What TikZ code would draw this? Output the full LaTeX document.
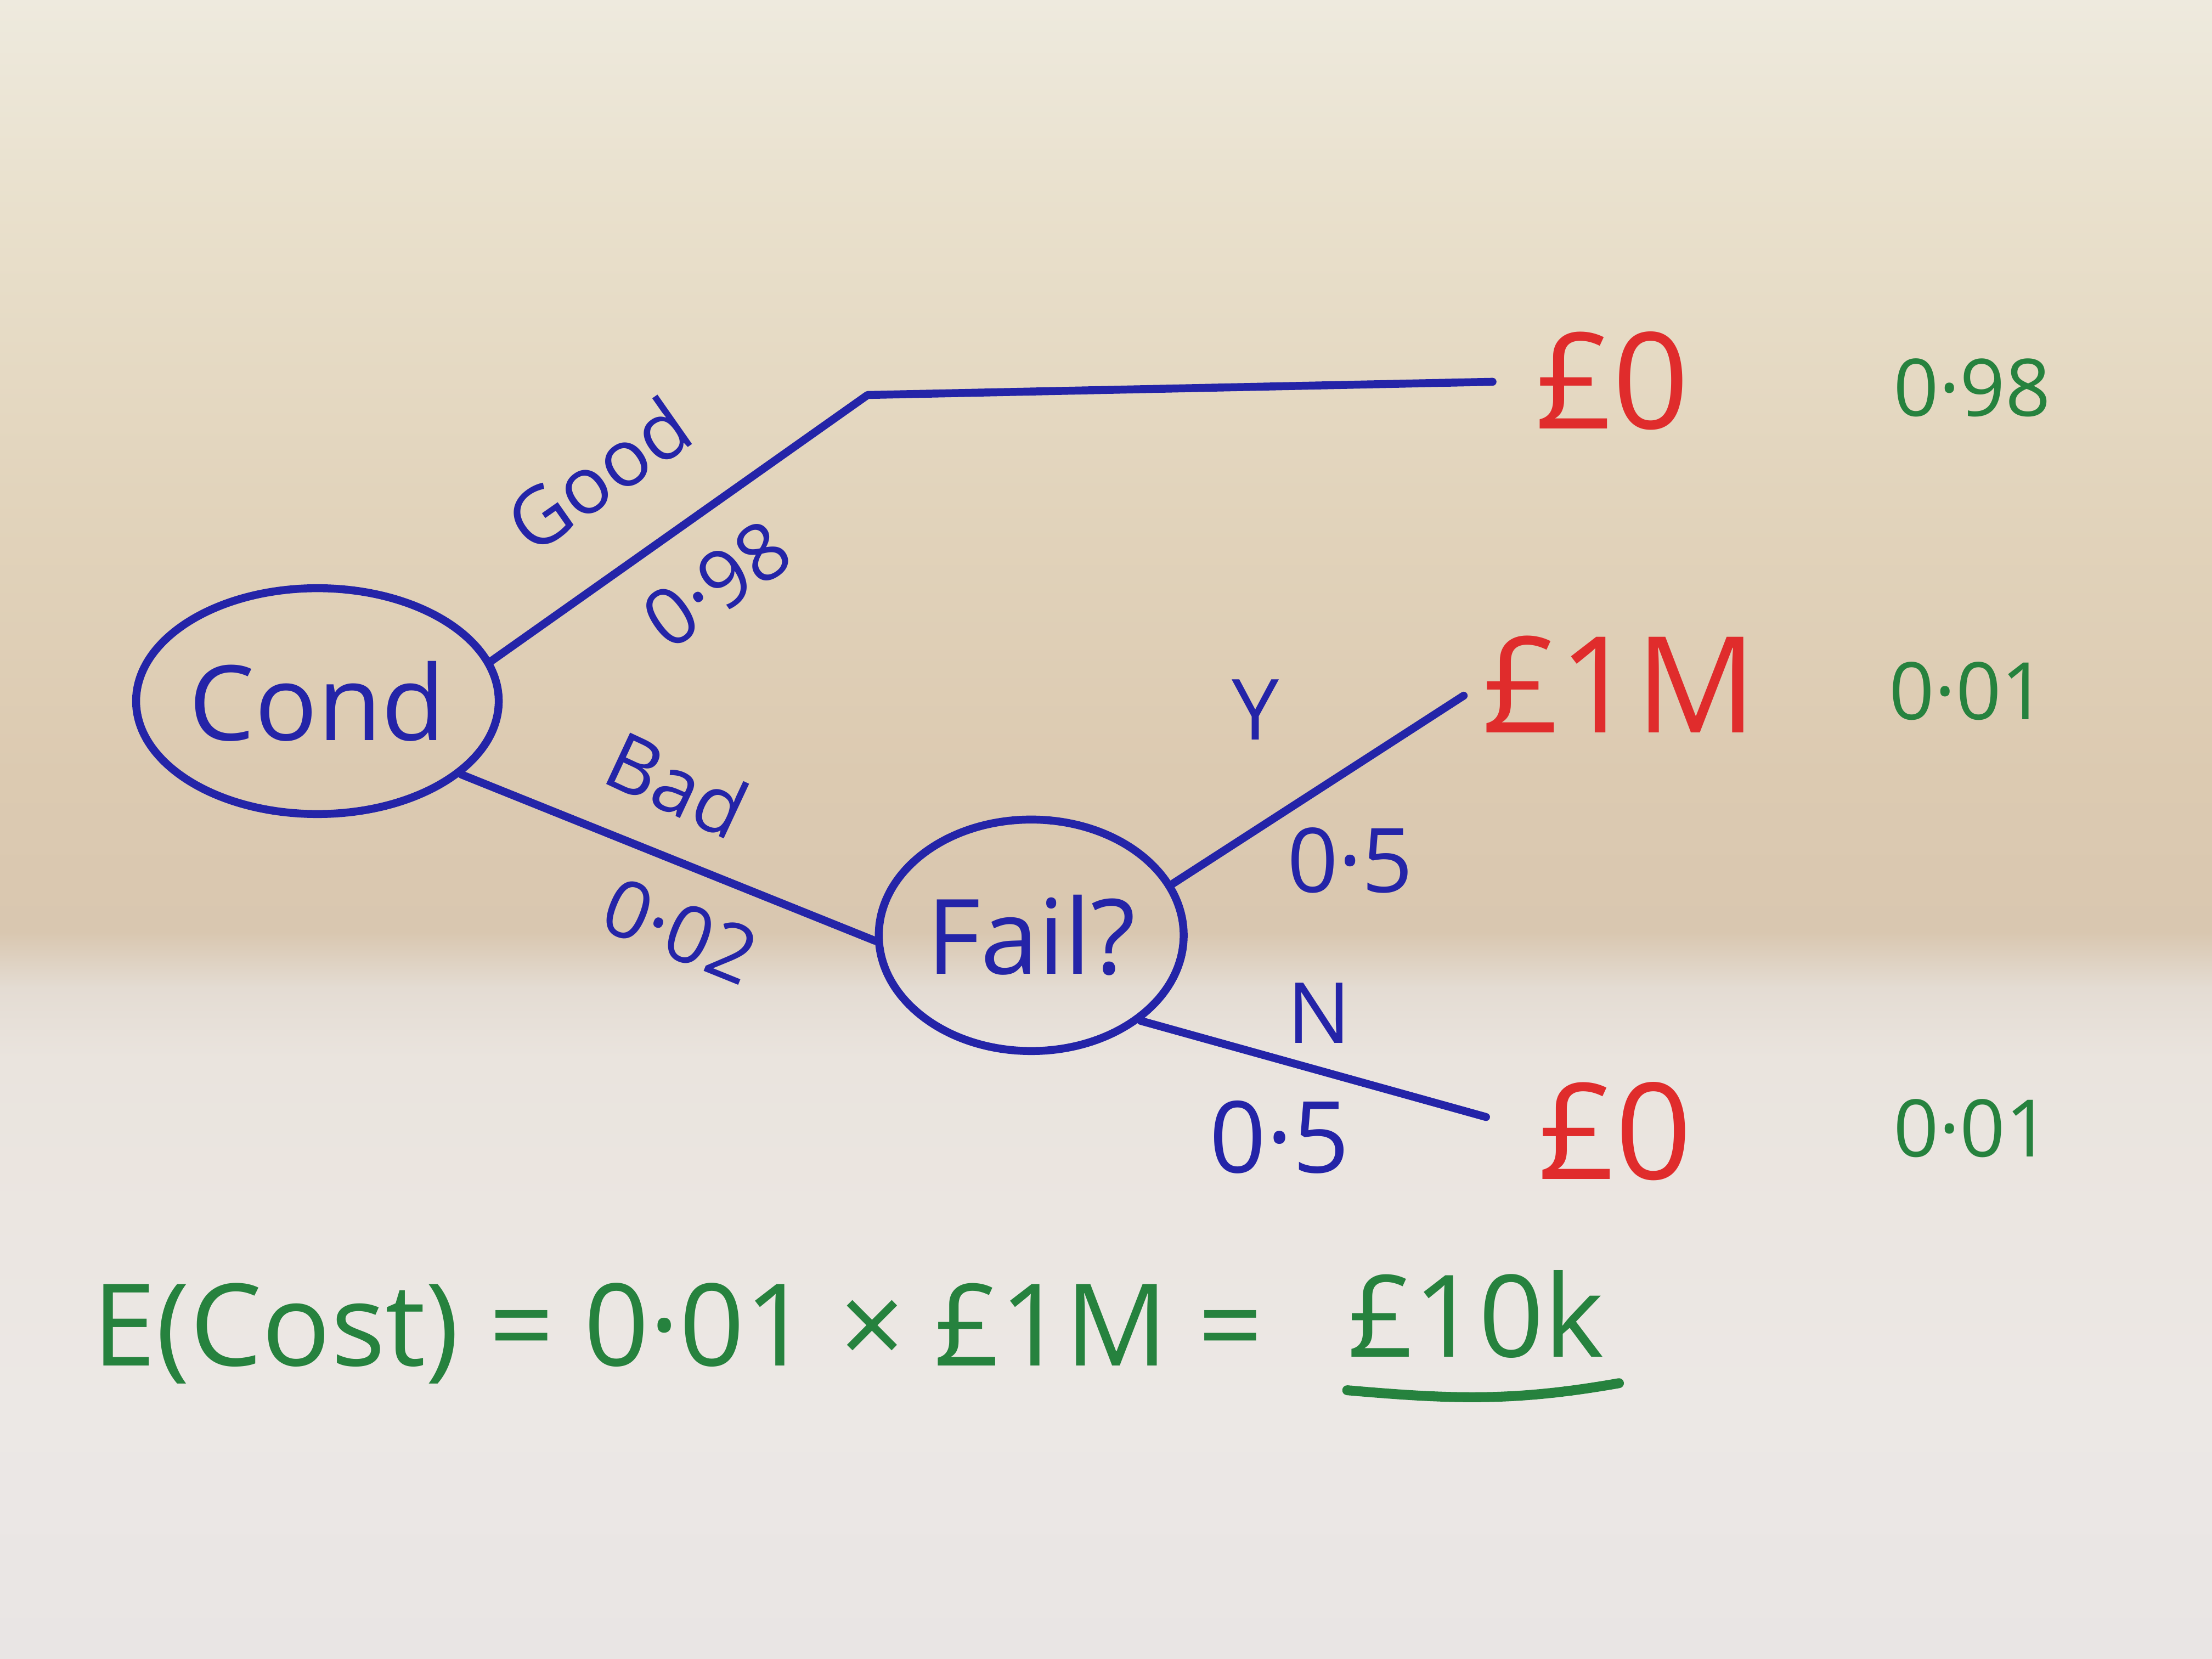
\documentclass[tikz,border=0pt]{standalone}
\usepackage{fontspec}
\setmainfont{Open Sans}
\usetikzlibrary{shapes.geometric}
\definecolor{ink}{RGB}{36,36,168}
\definecolor{redink}{RGB}{224,44,44}
\definecolor{greenink}{RGB}{38,130,62}
\definecolor{pTop}{RGB}{238,234,222}
\definecolor{pA1}{RGB}{233,224,204}
\definecolor{pA2}{RGB}{226,212,188}
\definecolor{pA3}{RGB}{220,202,177}
\definecolor{pB}{RGB}{217,199,176}
\definecolor{pB2}{RGB}{228,220,211}
\definecolor{pC}{RGB}{234,228,222}
\definecolor{pD}{RGB}{236,232,229}
\definecolor{pE}{RGB}{233,229,228}
\pgfdeclareverticalshading{paper}{100bp}{color(0bp)=(pE); color(25bp)=(pE); color(32.5bp)=(pD); color(43.1bp)=(pC); color(45.2bp)=(pB2); color(46.9bp)=(pB); color(51.6bp)=(pA3); color(60.1bp)=(pA2); color(68.6bp)=(pA1); color(75bp)=(pTop); color(100bp)=(pTop)}
\tikzset{
  chance/.style={ellipse, draw=ink, line width=1.6pt, text=ink, font=\fontsize{21}{24}\selectfont, inner sep=0pt},
  branch/.style={draw=ink, line width=1.6pt, line cap=round, line join=round},
  blab/.style={text=ink, font=\fontsize{16}{18}\selectfont, inner sep=0pt},
  outcome/.style={text=redink, font=\fontsize{27}{31}\selectfont, inner sep=0pt},
  prob/.style={text=greenink, font=\fontsize{16}{18}\selectfont, inner sep=0pt},
  eqtext/.style={text=greenink, font=\fontsize{23}{27}\selectfont, inner sep=0pt},
  uline/.style={draw=greenink, line width=2pt, line cap=round}
}
\begin{document}
\begin{tikzpicture}[x=0.01cm,y=-0.01cm]
\shade[shading=paper] (0,0) rectangle (1568,1176);
\useasboundingbox (0,0) rectangle (1568,1176);

% chance nodes
\node[chance, minimum width=2.54cm, minimum height=1.6cm] (cond) at (225,497) {Cond};
\node[chance, minimum width=2.16cm, minimum height=1.64cm] (fail) at (731,663) {Fail?};

% outcomes
\node[outcome] (z1) at (1143,270) {£0};
\node[outcome] (m1) at (1148,485) {£1M};
\node[outcome] (z2) at (1145,802) {£0};

% probabilities of outcomes
\node[prob] (p1) at (1398,275) {0·98};
\node[prob] (p2) at (1395,490) {0·01};
\node[prob] (p3) at (1398,800) {0·01};

% branches
\coordinate (gbend) at (615,280);
\draw[branch, shorten >=0.3cm] (cond.13) -- (gbend) -- (z1.west);
\draw[branch] (cond.-27) -- (fail.182);
\draw[branch, shorten >=0.15cm] (fail.20) -- (m1.west);
\draw[branch, shorten >=0.38cm] (fail.-38) -- (z2.west);

% branch labels
\node[blab, rotate=35] (lgood) at (424,336) {Good};
\node[blab, rotate=35] (lg98) at (508,414) {0·98};
\node[blab, rotate=-25] (lbad) at (480,556) {Bad};
\node[blab, rotate=-22] (l02) at (482,660) {0·02};
\node[blab, font=\fontsize{17}{19}\selectfont] (ly) at (890,503) {Y};
\node[blab, font=\fontsize{18}{20}\selectfont] (ly5) at (957,610) {0·5};
\node[blab, font=\fontsize{17}{19}\selectfont] (ln) at (935,718) {N};
\node[blab, font=\fontsize{20}{22}\selectfont] (ln5) at (907,806) {0·5};

% expected cost
\node[eqtext, anchor=base west] (eq1) at (65,968) {E(Cost) = 0·01 × £1M =};
\node[eqtext, anchor=base west] (eq2) at (955,962) {£10k};
\draw[uline] ([shift={(0,22)}]eq2.south west) to[out=-5,in=190] ([shift={(10,17)}]eq2.south east);
\end{tikzpicture}
\end{document}
